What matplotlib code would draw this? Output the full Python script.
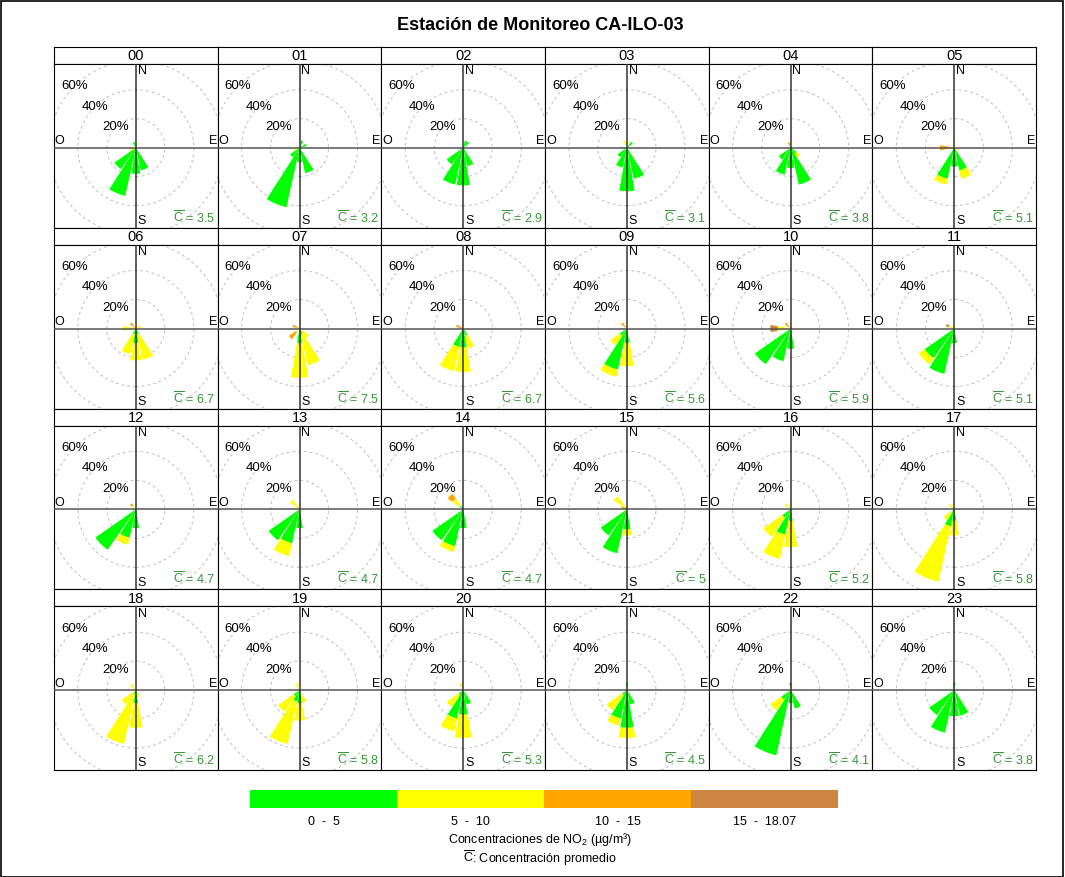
import matplotlib
matplotlib.use("Agg")
import matplotlib.pyplot as plt
from matplotlib.patches import Wedge, Circle, Rectangle

plt.rcParams['font.family'] = ['Liberation Sans', 'DejaVu Sans']
plt.rcParams['mathtext.fontset'] = 'custom'
plt.rcParams['mathtext.rm'] = 'Liberation Sans'

# ---- data (percent of time per sector and band) ----
HOURS = ["%02d" % h for h in range(24)]
DIRS = ["N", "NNE", "NE", "ENE", "E", "ESE", "SE", "SSE",
        "S", "SSW", "SW", "WSW", "W", "WNW", "NW", "NNW"]
BAND_LABELS = ["0  -  5", "5  -  10", "10  -  15", "15  -  18.07"]
BAND_COLORS = ["#00FF00", "#FFFF00", "#FFA500", "#CD853F"]
MEANS = ["3.5", "3.2", "2.9", "3.1", "3.8", "5.1", "6.7", "7.5", "6.7", "5.6", "5.9", "5.1",
         "4.7", "4.7", "4.7", "5", "5.2", "5.8", "6.2", "5.8", "5.3", "4.5", "4.1", "3.8"]

#        N NNE NE ENE E ESE SE SSE  S SSW SW WSW W WNW NW NNW
GREEN = [[0, 0, 0, 0, 0, 0, 0, 16, 18, 34, 18, 0, 0, 0, 0, 4],
         [0, 5, 0, 5, 0, 0, 0, 18, 10, 42, 8, 0, 0, 0, 0, 0],
         [0, 5, 5, 0, 0, 0, 0, 13, 26, 26, 14, 0, 0, 0, 0, 0],
         [0, 0, 5, 0, 0, 0, 0, 22, 30, 14, 8, 0, 4, 0, 0, 0],
         [0, 0, 0, 0, 0, 0, 5, 26, 14, 19, 10, 0, 0, 0, 0, 0],
         [0, 0, 0, 0, 0, 0, 0, 16, 13, 22, 0, 0, 0, 0, 0, 0],
         [0, 0, 0, 0, 0, 0, 0, 4, 10, 4, 0, 0, 0, 0, 0, 0],
         [0, 0, 0, 0, 0, 0, 0, 4, 10, 0, 0, 0, 0, 0, 0, 0],
         [0, 0, 0, 0, 0, 0, 0, 5, 13, 13, 0, 0, 0, 0, 0, 0],
         [0, 0, 0, 0, 0, 0, 0, 0, 10, 29, 6, 0, 0, 0, 0, 0],
         [0, 0, 0, 0, 0, 0, 0, 0, 14, 23, 30, 0, 0, 0, 0, 0],
         [0, 0, 0, 0, 0, 0, 0, 0, 10, 32, 25, 0, 0, 0, 0, 0],
         [0, 0, 0, 0, 0, 0, 0, 0, 13, 20, 34, 0, 0, 0, 0, 0],
         [0, 0, 0, 0, 0, 0, 0, 0, 13, 24, 26, 0, 0, 0, 0, 0],
         [0, 0, 0, 0, 0, 0, 0, 0, 13, 26, 26, 0, 0, 0, 3, 0],
         [0, 0, 0, 0, 0, 0, 0, 0, 14, 31, 22, 0, 0, 0, 2, 0],
         [0, 0, 0, 0, 0, 0, 0, 0, 8, 18, 7, 0, 0, 0, 0, 0],
         [0, 0, 0, 0, 0, 0, 0, 0, 8, 12, 2, 0, 0, 0, 0, 0],
         [0, 0, 0, 0, 0, 0, 0, 0, 9, 3, 0, 0, 0, 0, 0, 0],
         [0, 0, 0, 0, 0, 0, 0, 0, 9, 8, 5, 0, 0, 0, 0, 0],
         [0, 0, 0, 0, 0, 0, 0, 10, 17, 20, 4, 0, 0, 0, 0, 0],
         [5, 0, 0, 0, 0, 0, 0, 10, 26, 20, 4, 0, 0, 0, 0, 0],
         [5, 0, 0, 0, 0, 0, 0, 13, 9, 46, 8, 0, 0, 0, 0, 0],
         [5, 0, 0, 0, 0, 0, 0, 18, 18, 30, 21, 0, 0, 0, 0, 0]]

YELLOW = [[0, 0, 0, 0, 0, 0, 0, 0, 0, 0, 0, 4, 0, 0, 0, 0],
          [0, 0, 0, 0, 0, 0, 0, 0, 0, 0, 0, 4, 0, 0, 0, 0],
          [0, 0, 0, 0, 0, 0, 0, 0, 0, 0, 0, 0, 0, 0, 0, 0],
          [0, 0, 0, 0, 0, 0, 0, 0, 0, 0, 0, 0, 0, 0, 0, 5],
          [0, 0, 0, 0, 0, 0, 3, 0, 0, 0, 0, 0, 0, 0, 0, 0],
          [4, 0, 0, 0, 0, 4, 0, 6, 0, 4, 0, 0, 2, 0, 0, 0],
          [0, 0, 0, 4, 0, 0, 0, 18, 12, 14, 0, 0, 9, 0, 0, 0],
          [0, 0, 0, 0, 0, 0, 8, 22, 24, 0, 3, 0, 0, 0, 0, 0],
          [0, 0, 0, 0, 0, 0, 0, 9, 17, 17, 0, 0, 0, 0, 0, 0],
          [0, 0, 0, 0, 0, 0, 0, 0, 16, 5, 8, 0, 0, 0, 0, 0],
          [0, 0, 0, 0, 0, 0, 0, 0, 0, 0, 0, 0, 9, 0, 0, 0],
          [0, 0, 0, 0, 0, 0, 0, 0, 0, 0, 5, 0, 0, 4, 0, 0],
          [0, 0, 0, 0, 0, 0, 0, 0, 0, 5, 0, 0, 0, 0, 3, 0],
          [0, 0, 0, 0, 0, 0, 0, 0, 0, 9, 0, 0, 0, 3, 8, 0],
          [0, 0, 0, 0, 0, 0, 0, 0, 0, 4, 0, 0, 0, 0, 6, 0],
          [0, 0, 0, 0, 0, 0, 0, 0, 4, 0, 0, 0, 3, 0, 9, 0],
          [0, 0, 0, 0, 0, 0, 0, 0, 18, 17, 16, 0, 0, 0, 5, 0],
          [0, 0, 0, 0, 0, 0, 0, 0, 10, 39, 7, 0, 0, 0, 5, 0],
          [0, 0, 0, 0, 0, 0, 0, 5, 17, 35, 12, 0, 0, 0, 5, 0],
          [0, 0, 0, 0, 0, 0, 0, 9, 12, 30, 13, 0, 0, 0, 0, 5],
          [0, 0, 0, 0, 0, 0, 0, 0, 16, 9, 10, 0, 0, 0, 0, 5],
          [0, 0, 0, 0, 0, 0, 0, 0, 7, 5, 13, 0, 0, 0, 0, 0],
          [0, 0, 0, 0, 0, 0, 0, 0, 0, 0, 9, 0, 0, 0, 0, 0],
          [0, 0, 0, 0, 0, 0, 0, 0, 0, 0, 0, 0, 0, 0, 0, 0]]

ORANGE = [[0] * 16 for _ in range(24)]
ORANGE[4][15] = 4
ORANGE[5][12] = 8
ORANGE[6][14] = 5
ORANGE[7][10] = 6
ORANGE[7][13] = 5
ORANGE[8][13] = 5
ORANGE[9][14] = 5
ORANGE[10][14] = 5
ORANGE[12][14] = 2
ORANGE[14][14] = 4
ORANGE[15][13] = 4

BROWN = [[0] * 16 for _ in range(24)]
BROWN[10][12] = 5
BROWN[11][13] = 2

# ---- layout in pixels ----
W, H = 1065, 877
LEFT, TOP = 54, 47
COLW, ROWH = 163.7, 180.8
STRIPH = 17
PX_PER_PCT = 1.45
CENTER_DROP = 1.8   # rose centre sits a bit below the middle of the panel
SEG = 0.9
CBAR = r"$\overline{\mathrm{C}}$"


def pxAxes(fig, left, top, width, height):
    '''add an axes given in pixel coordinates measured from the top left'''
    return fig.add_axes([left / W, 1 - (top + height) / H, width / W, height / H])


def drawStrip(fig, col, row):
    '''draw the header strip with the hour label'''
    ax = pxAxes(fig, LEFT + col * COLW, TOP + row * ROWH, COLW, STRIPH)
    ax.set_xticks([])
    ax.set_yticks([])
    for s in ax.spines.values():
        s.set_linewidth(0.8)
    ax.text(0.5, 0.45, HOURS[row * 6 + col], ha='center', va='center', fontsize=10.5,
            transform=ax.transAxes)


def drawRose(ax, hour):
    '''draw one pollution rose, bands stacked outwards'''
    bands = [GREEN[hour], YELLOW[hour], ORANGE[hour], BROWN[hour]]
    half = 360 / len(DIRS) * SEG / 2
    for i in range(len(DIRS)):
        bearing = i * 360 / len(DIRS)
        ang = 90 - bearing
        inner = 0
        for b, vals in enumerate(bands):
            v = vals[i]
            if v <= 0:
                continue
            ax.add_patch(Wedge((0, 0), inner + v, ang - half, ang + half, width=v,
                               facecolor=BAND_COLORS[b], edgecolor='none', zorder=2))
            inner += v


def drawPanel(fig, col, row):
    hour = row * 6 + col
    drawStrip(fig, col, row)
    plotH = ROWH - STRIPH
    ax = pxAxes(fig, LEFT + col * COLW, TOP + row * ROWH + STRIPH, COLW, plotH)
    xl = COLW / 2 / PX_PER_PCT
    ytop = (plotH / 2 + CENTER_DROP) / PX_PER_PCT
    ybot = (plotH / 2 - CENTER_DROP) / PX_PER_PCT
    ax.set_xlim(-xl, xl)
    ax.set_ylim(-ybot, ytop)
    ax.set_xticks([])
    ax.set_yticks([])
    for s in ax.spines.values():
        s.set_linewidth(0.8)

    for r in [20, 40, 60]:
        ax.add_patch(Circle((0, 0), r, fill=False, edgecolor='#C0C0C0', lw=0.7,
                            linestyle=(0, (3, 3)), zorder=1))
        ax.text(-r * 0.7071, r * 0.7071, "%d%%" % r, ha='center', va='center',
                fontsize=9.5, zorder=4)

    drawRose(ax, hour)

    ax.axhline(0, color='#555555', lw=1.1, zorder=3)
    ax.axvline(0, color='#333333', lw=1.1, zorder=3)

    ax.text(1.2, ytop - 0.8, "N", ha='left', va='top', fontsize=9, zorder=4)
    ax.text(1.2, -ybot + 0.6, "S", ha='left', va='bottom', fontsize=9, zorder=4)
    ax.text(-xl + 0.6, 0.4, "O", ha='left', va='bottom', fontsize=9, zorder=4)
    ax.text(xl - 0.6, 0.4, "E", ha='right', va='bottom', fontsize=9, zorder=4)
    ax.text(0.985, 0.012, CBAR + " = " + MEANS[hour], ha='right', va='bottom',
            fontsize=9, color='#339933', transform=ax.transAxes, zorder=4)


def drawKey(fig):
    '''colour key under the panels'''
    ax = pxAxes(fig, 250, 790, 588, 18)
    ax.bar(range(len(BAND_COLORS)), [1] * len(BAND_COLORS), width=1.0, align='edge',
           color=BAND_COLORS, edgecolor='none')
    ax.set_xlim(0, len(BAND_COLORS))
    ax.set_ylim(0, 1)
    ax.axis('off')
    for i, lab in enumerate(BAND_LABELS):
        fig.text((250 + 588 / 4 * (i + 0.5)) / W, 1 - 822 / H, lab, ha='center',
                 va='center', fontsize=9)
    fig.text(540 / W, 1 - 840 / H, "Concentraciones de NO$_2$ (\u00b5g/m\u00b3)",
             ha='center', va='center', fontsize=9)
    fig.text(540 / W, 1 - 858 / H, CBAR + ": Concentración promedio",
             ha='center', va='center', fontsize=9)


if __name__ == '__main__':
    fig = plt.figure(figsize=(W / 100, H / 100), dpi=100)
    fig.text(540 / W, 1 - 25 / H, "Estación de Monitoreo CA-ILO-03", ha='center',
             va='center', fontsize=13, fontweight='bold')
    for row in range(4):
        for col in range(6):
            drawPanel(fig, col, row)
    drawKey(fig)
    fig.patches.append(Rectangle((0.0005, 0.0005), 0.998, 0.998, transform=fig.transFigure,
                                 fill=False, edgecolor='black', lw=1.2))
    fig.savefig("out.png", dpi=100)
